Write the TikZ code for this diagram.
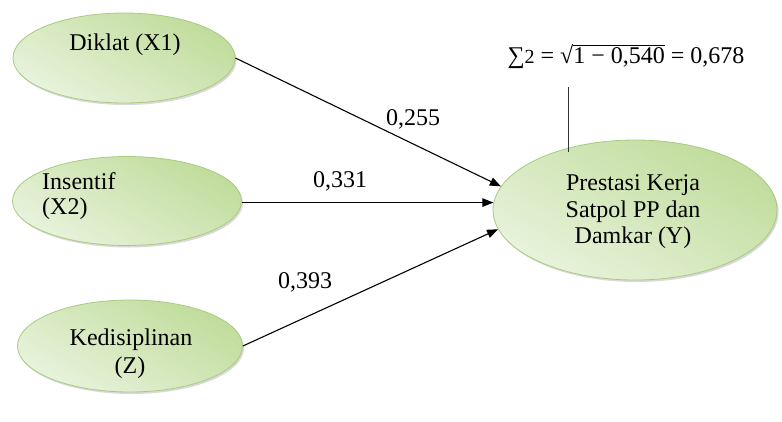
\documentclass[tikz,border=0pt]{standalone}
\usepackage{fontspec}
\setmainfont{Liberation Serif}
\usetikzlibrary{shapes.geometric,arrows.meta,shadows}

\definecolor{ovalfillA}{RGB}{192,220,155}
\definecolor{ovalfillB}{RGB}{232,243,220}
\definecolor{ovaledge}{RGB}{168,203,128}

\tikzset{
  oval/.style={ellipse, draw=ovaledge, line width=0.8pt, inner sep=0pt,
    top color=ovalfillA, bottom color=ovalfillB, shading angle=-30,
    drop shadow={shadow xshift=1.5pt, shadow yshift=-2pt, opacity=0.3, fill=black!50}},
  txt/.style={anchor=base, inner sep=0pt, font=\fontsize{24}{26}\selectfont},
  path/.style={line width=1.1pt, -{Triangle[length=11pt,width=8.5pt]}},
}

\begin{document}
\begin{tikzpicture}[x=1pt,y=-1pt]
  \useasboundingbox (0,0) rectangle (782,421);

  % latent variables
  \node[oval, minimum width=222pt, minimum height=90pt] (x1) at (124,58) {};
  \node[oval, minimum width=229pt, minimum height=89pt] (x2) at (127,201) {};
  \node[oval, minimum width=225pt, minimum height=92pt] (z)  at (130,346) {};
  \node[oval, minimum width=284pt, minimum height=140pt] (y) at (635,210) {};

  % variable names
  \node[txt] (t1) at (125,50) {Diklat (X1)};
  \node[txt, anchor=base west] (t2a) at (42,189) {Insentif};
  \node[txt, anchor=base west] (t2b) at (42,214) {(X2)};
  \node[txt] (t3a) at (131,345) {Kedisiplinan};
  \node[txt] (t3b) at (130,373) {(Z)};
  \node[txt] (ty1) at (633,190) {Prestasi Kerja};
  \node[txt] (ty2) at (633,217) {Satpol PP dan};
  \node[txt] (ty3) at (633,243) {Damkar (Y)};

  % path coefficients
  \draw[path] (x1.east) -- (y.170.7);
  \draw[path] (y.177 -| x2.east) -- (y.177);
  \draw[path] (z.east) -- (y.188.4);

  \node[txt] (p1) at (413,125) {0,255};
  \node[txt] (p2) at (340,187) {0,331};
  \node[txt] (p3) at (305,288) {0,393};

  % residual
  \node[txt] (res) at (626,63) {∑{\fontsize{20}{20}\selectfont 2} = √\setbox0\hbox{1 − 0,540}\vbox{\hrule height 0.8pt\kern1.5pt\box0} = 0,678};
  \coordinate (rt) at (568,87);
  \coordinate (rb) at (568,152);
  \draw[line width=1pt, black!80] (rt) -- (rb);
\end{tikzpicture}
\end{document}
